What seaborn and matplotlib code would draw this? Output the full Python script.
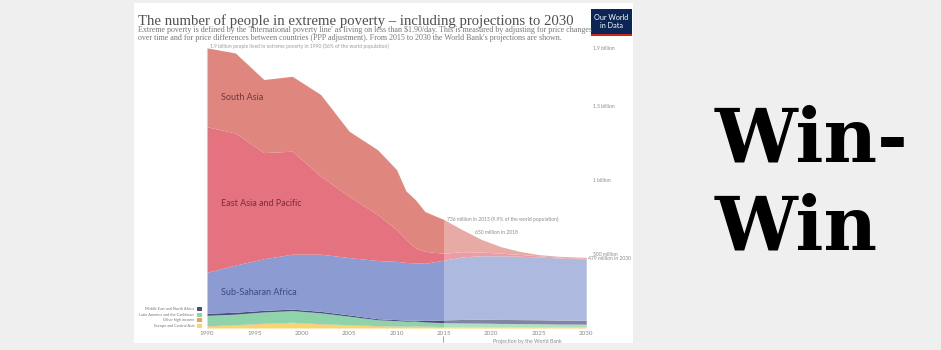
import seaborn as sns
import matplotlib.pyplot as plt
from matplotlib.patches import Rectangle

# People in extreme poverty (millions), World Bank; projections from 2015
YEARS = [1990, 1993, 1996, 1999, 2002, 2005, 2008, 2010, 2011, 2012, 2013,
         2015, 2017, 2019, 2021, 2023, 2025, 2027, 2030]
PROJECTION_START = 2015

EUROPE_CENTRAL_ASIA = [12, 20, 29, 36, 26, 20, 13, 11, 10, 11, 10, 7, 6, 6, 5, 5, 5, 4, 4]
OTHER_HIGH_INCOME = [3, 3, 3, 3, 3, 3, 3, 3, 3, 3, 3, 3, 3, 3, 3, 3, 3, 3, 3]
LATIN_AMERICA = [71, 71, 77, 79, 74, 57, 40, 36, 33, 33, 28, 26, 25, 24, 23, 22, 21, 20, 19]
MIDDLE_EAST = [14, 13, 11, 10, 10, 9, 7, 7, 7, 7, 10, 19, 24, 26, 27, 27, 27, 27, 27]
SUB_SAHARAN_AFRICA = [278, 320, 350, 373, 388, 389, 395, 395, 392, 388, 388,
                      405, 425, 431, 432, 430, 426, 422, 415]
EAST_ASIA_PACIFIC = [987, 896, 720, 699, 529, 416, 312, 215, 155, 101, 81,
                     47, 35, 25, 18, 12, 8, 5, 3]
SOUTH_ASIA = [536, 543, 496, 508, 554, 441, 440, 408, 330, 327, 270,
              229, 147, 85, 44, 21, 8, 6, 8]

REGIONS = ['Europe and Central Asia', 'Other high income',
           'Latin America and the Caribbean', 'Middle East and North Africa',
           'Sub-Saharan Africa', 'East Asia and Pacific', 'South Asia']
COLORS = ['#f6d673', '#ee9f62', '#8fd3aa', '#4b4f7c', '#8c9bd2', '#e4727f', '#df867f']

X_TICKS = [1990, 1995, 2000, 2005, 2010, 2015, 2020, 2025, 2030]
Y_LABELS = [(1900, '1.9 billion'), (1500, '1.5 billion'), (1000, '1 billion'),
            (500, '500 million')]

W, H = 941, 350


def fx(px):
    return px / W


def fy(py):
    return 1 - py / H


sns.set_theme(style='white')
plt.rcParams['font.family'] = ['Lato', 'DejaVu Sans']

fig = plt.figure(figsize=(W / 100, H / 100), dpi=100, facecolor='#efefef')

# white card holding the chart
fig.patches.append(Rectangle((fx(134), fy(343)), 499 / W, 340 / H, transform=fig.transFigure,
                             facecolor='white', edgecolor='none', zorder=-5))

ax = fig.add_axes([fx(207), fy(328), (586 - 207) / W, (328 - 48) / H])
ax.set_zorder(2)
ax.set_facecolor('none')
series = [EUROPE_CENTRAL_ASIA, OTHER_HIGH_INCOME, LATIN_AMERICA, MIDDLE_EAST,
          SUB_SAHARAN_AFRICA, EAST_ASIA_PACIFIC, SOUTH_ASIA]
ax.stackplot(YEARS, *series, colors=sns.color_palette(COLORS), labels=REGIONS, linewidth=0)
ax.axvspan(PROJECTION_START, 2030, color='white', alpha=0.3, lw=0)
ax.set_xlim(1990, 2030)
ax.set_ylim(0, 1900)
sns.despine(ax=ax, left=True, bottom=True)
ax.set_yticks([])
ax.set_xticks(X_TICKS)
ax.set_xticklabels([str(x) for x in X_TICKS], fontsize=4.5, color='#8a8a8a')
ax.tick_params(axis='x', length=0, pad=2)

# area labels
ax.text(1991.5, 1561, 'South Asia', fontsize=6.5, color='#6e3a3a', va='center')
ax.text(1991.5, 842, 'East Asia and Pacific', fontsize=6.5, color='#74303c', va='center')
ax.text(1991.5, 244, 'Sub-Saharan Africa', fontsize=6.5, color='#3b4a80', va='center')

# right-hand value labels
for val, lab in Y_LABELS:
    ax.text(2030.7, val, lab, fontsize=3.6, color='#8a8a8a', va='center', clip_on=False)
fig.text(fx(588), fy(259), '479 million in 2030', fontsize=3.6, color='#8a8a8a', va='center')

# annotations
fig.text(fx(210), fy(46), '1.9 billion people lived in extreme poverty in 1990 (36% of the world population)',
         fontsize=3.6, color='#9a9a9a', va='center')
fig.text(fx(447), fy(219), '736 million in 2015 (9.9% of the world population)',
         fontsize=3.6, color='#8a8a8a', va='center', zorder=5)
fig.text(fx(475), fy(232), '650 million in 2018', fontsize=3.6, color='#8a8a8a', va='center', zorder=5)
fig.text(fx(493), fy(341), 'Projection by the World Bank', fontsize=3.8, color='#8a8a8a', va='center')
fig.lines.append(plt.Line2D([fx(443), fx(443)], [fy(336), fy(342)], transform=fig.transFigure,
                            color='#999999', lw=0.6))

# legend for the thin bands
legend_rows = [('Middle East and North Africa', COLORS[3], 309),
               ('Latin America and the Caribbean', COLORS[2], 314.5),
               ('Other high income', COLORS[1], 320),
               ('Europe and Central Asia', COLORS[0], 325.5)]
for name, col, py in legend_rows:
    fig.patches.append(Rectangle((fx(197), fy(py + 2)), 5 / W, 4 / H, transform=fig.transFigure,
                                 facecolor=col, edgecolor='none'))
    fig.text(fx(194), fy(py), name, fontsize=2.8, color='#777777', ha='right', va='center')

# title and subtitle
serif = ['Liberation Serif', 'DejaVu Serif']
fig.text(fx(138), fy(25), 'The number of people in extreme poverty \u2013 including projections to 2030',
         fontsize=10.6, color='#505050', family=serif, va='baseline')
fig.text(fx(138), fy(30.5),
         "Extreme poverty is defined by the 'International poverty line' as living on less than \\$1.90/day. "
         "This is measured by adjusting for price changes",
         fontsize=5.75, color='#777777', family=serif, va='center')
fig.text(fx(138), fy(38),
         "over time and for price differences between countries (PPP adjustment). "
         "From 2015 to 2030 the World Bank's projections are shown.",
         fontsize=5.75, color='#777777', family=serif, va='center')

# Our World in Data logo
fig.patches.append(Rectangle((fx(591), fy(36)), 41 / W, 27 / H, transform=fig.transFigure,
                             facecolor='#0b2554', edgecolor='none'))
fig.patches.append(Rectangle((fx(591), fy(36)), 41 / W, 2 / H, transform=fig.transFigure,
                             facecolor='#ce261e', edgecolor='none'))
fig.text(fx(611.5), fy(17), 'Our World', fontsize=5.2, color='white', ha='center', va='center')
fig.text(fx(611.5), fy(26), 'in Data', fontsize=5.2, color='white', ha='center', va='center')

# side caption
fig.text(fx(715), fy(162), 'Win-', fontsize=53, fontweight='bold', color='black',
         family=['DejaVu Serif'], va='baseline')
fig.text(fx(715), fy(250), 'Win', fontsize=53, fontweight='bold', color='black',
         family=['DejaVu Serif'], va='baseline')

fig.savefig('out.png', dpi=100, facecolor=fig.get_facecolor())
